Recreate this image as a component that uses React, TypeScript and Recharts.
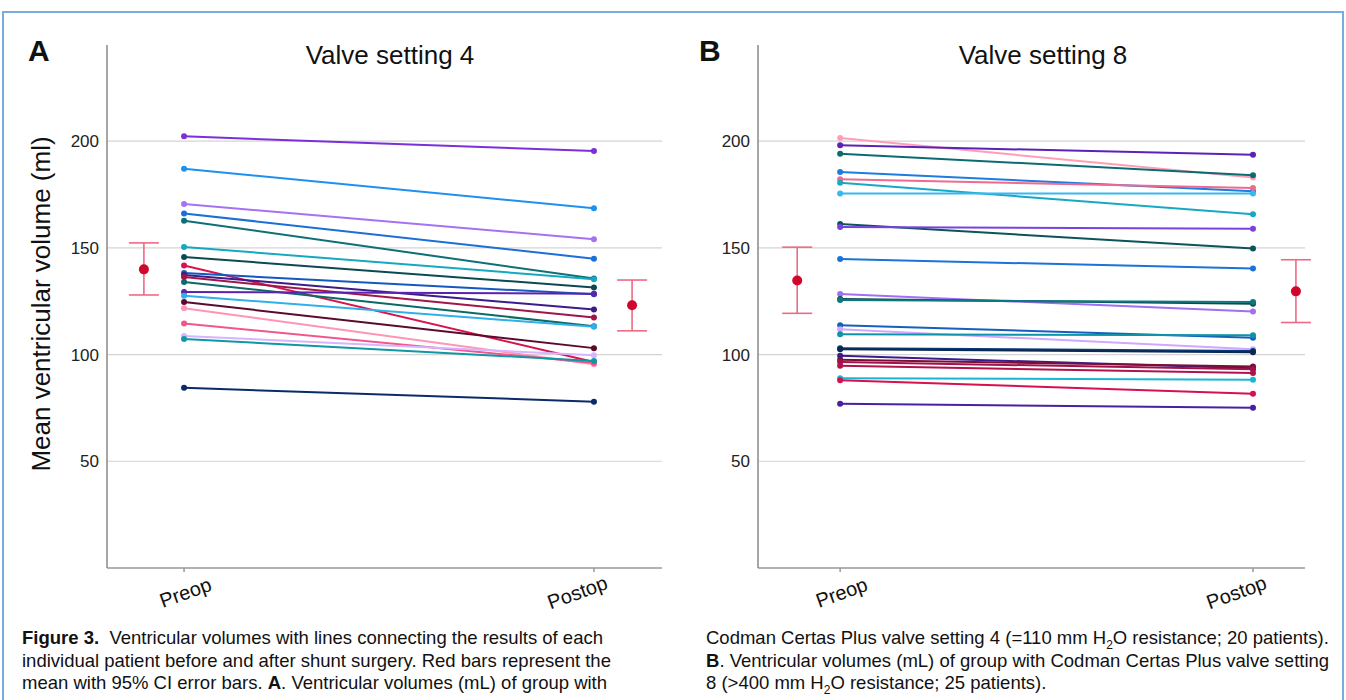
import React from 'react';
import {
  ComposedChart,
  Line,
  Scatter,
  ErrorBar,
  XAxis,
  YAxis,
  ReferenceLine,
} from 'recharts';

const CATEGORIES = ['Preop', 'Postop'];
const Y_TICKS = [50, 100, 150, 200];

// Panel A: valve setting 4 (20 patients)
const PREOP_A = [202.2, 187.0, 170.5, 166.1, 162.7, 150.4, 145.7, 141.7, 138.2, 137.3, 136.3, 134.0, 129.3, 127.5, 124.6, 121.7, 114.5, 108.7, 107.3, 84.4];
const POSTOP_A = [195.3, 168.5, 154.0, 144.9, 135.6, 135.3, 131.4, 96.5, 128.2, 121.1, 117.3, 113.3, 128.5, 113.0, 103.0, 95.5, 96.0, 99.7, 97.0, 77.9];
const MEAN_A = [139.9, 123.1];
const CI_LOW_A = [127.9, 111.1];
const CI_HIGH_A = [152.3, 134.9];

// Panel B: valve setting 8 (25 patients)
const PREOP_B = [201.4, 198.0, 194.1, 185.5, 182.1, 180.5, 175.4, 161.1, 159.7, 144.7, 128.3, 126.0, 125.5, 113.7, 111.8, 109.5, 103.0, 102.5, 99.4, 97.5, 96.5, 94.7, 88.9, 88.0, 76.9];
const POSTOP_B = [182.9, 193.6, 184.0, 176.5, 178.0, 165.7, 175.4, 149.7, 158.9, 140.3, 120.1, 123.8, 124.6, 107.9, 102.5, 109.0, 101.7, 101.1, 93.6, 94.4, 93.1, 91.3, 88.2, 81.6, 75.1];
const MEAN_B = [134.7, 129.6];
const CI_LOW_B = [119.3, 115.0];
const CI_HIGH_B = [150.3, 144.4];

const COLORS_A = [
  '#7a2fd9', '#1e90f0', '#a572f2', '#1a6fd8', '#0d7078', '#16a8c0', '#0b4a50',
  '#d8144e', '#1458c0', '#3a1c8a', '#a0154a', '#0d6868', '#5a22b0', '#30b0e8',
  '#5c0a2c', '#ff94b4', '#f0578c', '#d8b4ff', '#0e98a4', '#0a2a6a',
];
const COLORS_B = [
  '#ff9eb8', '#5b22b5', '#0b6b72', '#1e7be0', '#f06a90', '#18a8c2', '#38b8f2',
  '#0b5458', '#7b40e0', '#1a72da', '#a070f0', '#0b4a50', '#0e7880', '#1560bd',
  '#d0a8ff', '#0e94a8', '#0a3a7a', '#0a2850', '#3a1c8c', '#7a0e36', '#a0124a',
  '#b0124a', '#1ab5d0', '#d6114e', '#4a1fa0',
];

const FONT = '"Liberation Sans", Arial, Helvetica, sans-serif';

type PanelProps = {
  pre: number[];
  post: number[];
  colors: string[];
  mean: number[];
  low: number[];
  high: number[];
  xDomain: [number, number];
  meanX: number[];
  left: number;
  width: number;
  marginRight: number;
};

const XTick = (props: any) => {
  const { x, y, payload } = props;
  const label = CATEGORIES[payload.value - 1];
  const shift = payload.value === 2 ? -16 : 2;
  return (
    <g transform={`translate(${x + shift},${y + 20})`}>
      <text
        transform="rotate(-20)"
        textAnchor="middle"
        dominantBaseline="middle"
        fontSize={20}
        fontFamily={FONT}
        fill="#111"
      >
        {label}
      </text>
    </g>
  );
};

const Panel: React.FC<PanelProps> = ({ pre, post, colors, mean, low, high, xDomain, meanX, left, width, marginRight }) => {
  const means = mean.map((m, i) => ({ x: meanX[i], y: m, err: [m - low[i], high[i] - m] }));

  return (
    <div style={{ position: 'absolute', left, top: 0 }}>
      <ComposedChart width={width} height={640} margin={{ top: 45, right: marginRight, bottom: 22, left: 0 }}>
        {Y_TICKS.map((t) => (
          <ReferenceLine key={t} y={t} stroke="#d4d4d4" strokeWidth={1.2} ifOverflow="hidden" />
        ))}
        <XAxis
          type="number"
          dataKey="x"
          domain={xDomain}
          ticks={[1, 2]}
          allowDataOverflow
          height={50}
          stroke="#999"
          strokeWidth={1.5}
          tickSize={4}
          tickMargin={2}
          tick={<XTick />}
        />
        <YAxis
          type="number"
          dataKey="y"
          domain={[0, 245]}
          ticks={Y_TICKS}
          allowDataOverflow
          width={107}
          stroke="#888"
          strokeWidth={1.5}
          tickLine={false}
          tick={{ fontSize: 17, fill: '#222', fontFamily: FONT }}
        />
        {pre.map((v, i) => (
          <Line
            key={i}
            data={[{ x: 1, y: v }, { x: 2, y: post[i] }]}
            dataKey="y"
            stroke={colors[i]}
            strokeWidth={2}
            dot={{ r: 3, fill: colors[i], stroke: colors[i], strokeWidth: 0 }}
            activeDot={false}
            isAnimationActive={false}
          />
        ))}
        <Scatter
          data={means}
          dataKey="y"
          isAnimationActive={false}
          shape={(p: any) => <circle cx={p.cx} cy={p.cy} r={5} fill="#d0062c" />}
        >
          <ErrorBar dataKey="err" direction="y" width={15} stroke="#ee6a84" strokeWidth={1.6} />
        </Scatter>
      </ComposedChart>
    </div>
  );
};

const captionLine: React.CSSProperties = { whiteSpace: 'nowrap', height: 22.5 };
const subStyle: React.CSSProperties = { fontSize: 12, lineHeight: 0 };

export default function App() {
  return (
    <div
      style={{
        position: 'fixed', left: 0, top: 0, width: 1346, height: 700,
        background: '#fff', overflow: 'hidden', fontFamily: FONT, color: '#111',
      }}
    >
      <div
        style={{
          position: 'absolute', left: 2, top: 11, width: 1342, height: 720,
          border: '2px solid #7aaae0', boxSizing: 'border-box',
        }}
      />

      <Panel
        pre={PREOP_A} post={POSTOP_A} colors={COLORS_A}
        mean={MEAN_A} low={CI_LOW_A} high={CI_HIGH_A}
        xDomain={[0.812, 2.166]} meanX={[0.902, 2.093]}
        left={0} width={700} marginRight={38}
      />
      <Panel
        pre={PREOP_B} post={POSTOP_B} colors={COLORS_B}
        mean={MEAN_B} low={CI_LOW_B} high={CI_HIGH_B}
        xDomain={[0.801, 2.126]} meanX={[0.896, 2.104]}
        left={651} width={680} marginRight={26}
      />

      <div style={{ position: 'absolute', left: 28, top: 36, fontSize: 30, fontWeight: 700, lineHeight: '30px' }}>A</div>
      <div style={{ position: 'absolute', left: 699, top: 36, fontSize: 30, fontWeight: 700, lineHeight: '30px' }}>B</div>
      <div style={{ position: 'absolute', left: 190, top: 42, width: 400, textAlign: 'center', fontSize: 26, lineHeight: '26px' }}>
        Valve setting 4
      </div>
      <div style={{ position: 'absolute', left: 843, top: 42, width: 400, textAlign: 'center', fontSize: 26, lineHeight: '26px' }}>
        Valve setting 8
      </div>
      <div
        style={{
          position: 'absolute', left: 41, top: 304, fontSize: 26, whiteSpace: 'nowrap',
          transform: 'translate(-50%, -50%) rotate(-90deg)',
        }}
      >
        Mean ventricular volume (ml)
      </div>

      <div style={{ position: 'absolute', left: 22, top: 627, fontSize: 18.5, lineHeight: '22.5px' }}>
        <div style={captionLine}><b>Figure 3.</b>&nbsp; Ventricular volumes with lines connecting the results of each</div>
        <div style={captionLine}>individual patient before and after shunt surgery. Red bars represent the</div>
        <div style={captionLine}>mean with 95% CI error bars. <b>A</b>. Ventricular volumes (mL) of group with</div>
      </div>
      <div style={{ position: 'absolute', left: 706, top: 627, fontSize: 18.5, lineHeight: '22.5px' }}>
        <div style={captionLine}>
          Codman Certas Plus valve setting 4 (=110 mm H<sub style={subStyle}>2</sub>O resistance; 20 patients).
        </div>
        <div style={captionLine}><b>B</b>. Ventricular volumes (mL) of group with Codman Certas Plus valve setting</div>
        <div style={captionLine}>
          8 (&gt;400 mm H<sub style={subStyle}>2</sub>O resistance; 25 patients).
        </div>
      </div>
    </div>
  );
}
